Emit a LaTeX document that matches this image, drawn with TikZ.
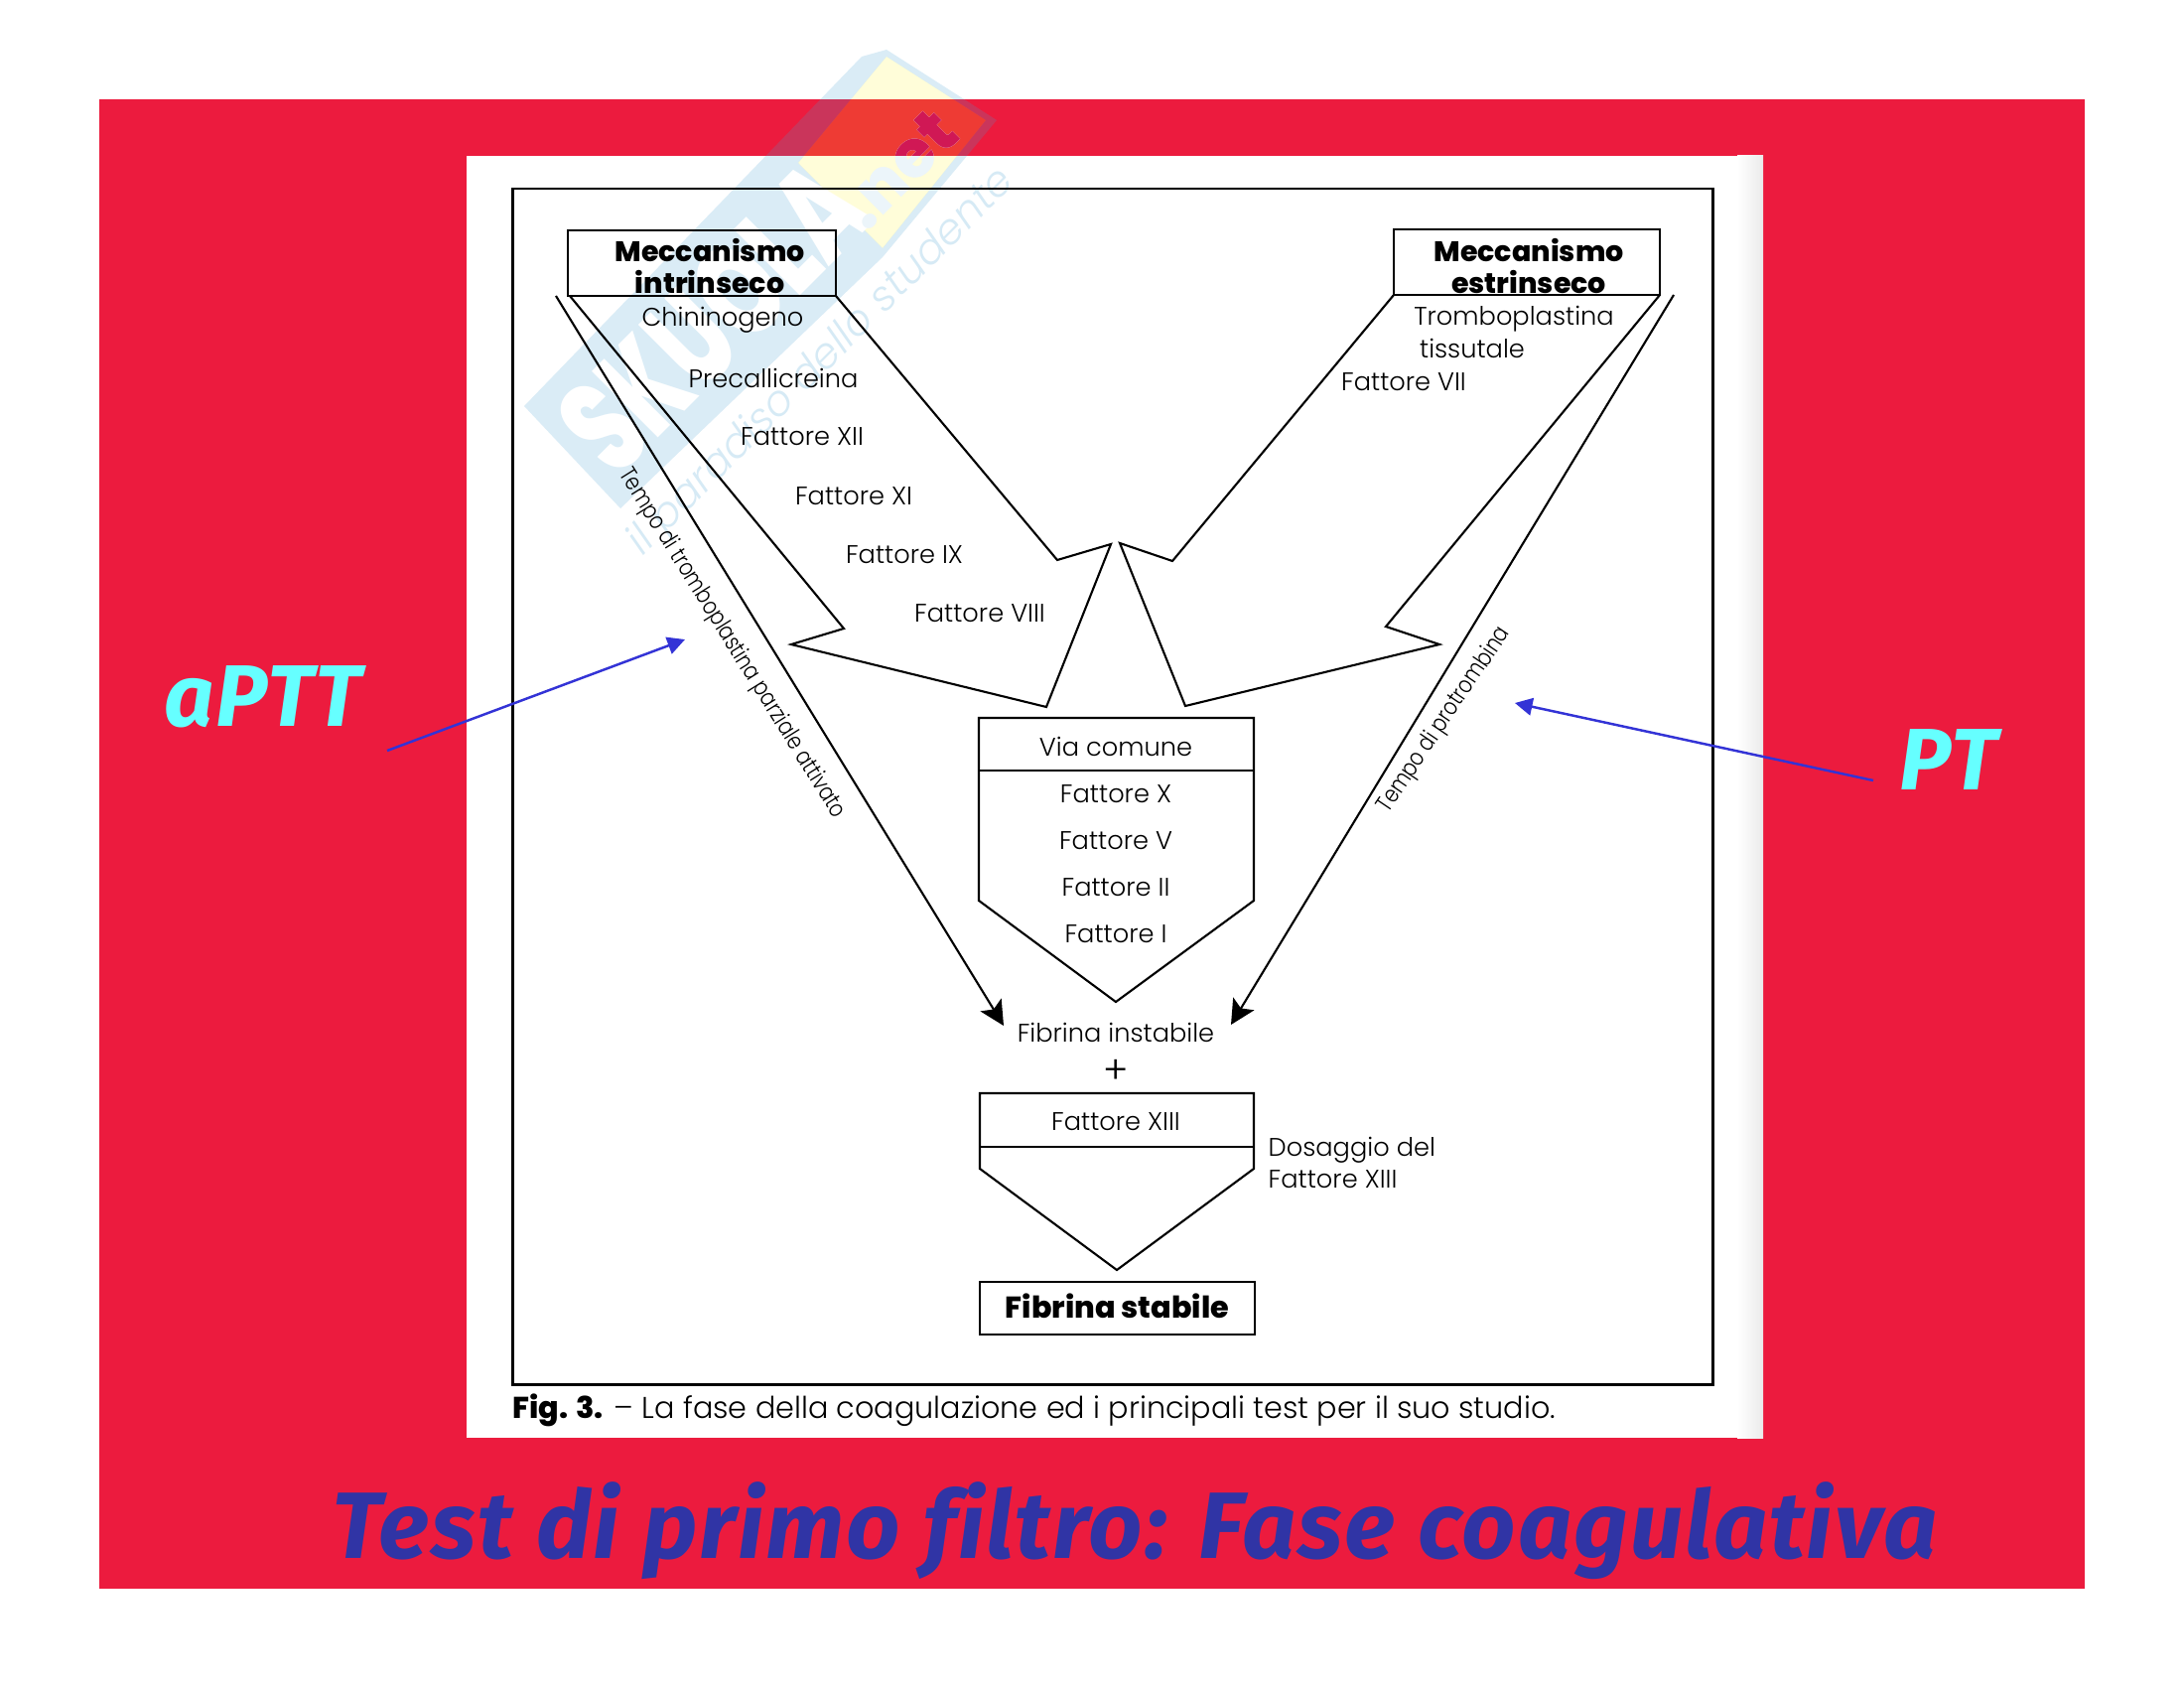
\documentclass[tikz,border=0pt]{standalone}
\usepackage{fontspec}
\setmainfont{Poppins}[UprightFont=* Light,BoldFont=* ExtraBold]
\newfontfamily\slidefont{Fira Sans}[UprightFont=* Bold Italic,Ligatures=NoCommon,LetterSpace=2]
\usetikzlibrary{arrows.meta}

\definecolor{slidered}{RGB}{236,27,62}
\definecolor{slideblue}{RGB}{48,52,165}
\definecolor{slidecyan}{RGB}{102,255,255}
\definecolor{arrowblue}{RGB}{51,51,214}
\definecolor{markblue}{RGB}{70,160,210}

\tikzset{
    fact/.style={inner sep=0pt, font=\fontsize{7.3}{9}\selectfont},
    tilted/.style={inner sep=0pt, font=\fontsize{6.8}{8}\selectfont},
    head/.style={inner sep=0pt, align=center, font=\fontsize{8.1}{9}\selectfont\bfseries},
    bigtag/.style={inner sep=0pt, text=slidecyan, font=\slidefont\fontsize{25}{28}\selectfont},
    flow/.style={black, line width=0.6pt, line join=miter},
    longarrow/.style={black, line width=0.6pt, -{Stealth[length=7pt,width=7pt,inset=1.5pt]}},
    testarrow/.style={arrowblue, line width=0.7pt, -{Triangle[length=5pt,width=5pt]}},
    netmark/.style={rotate=45, inner sep=0pt, font=\bfseries\fontsize{19}{22}\selectfont}
}

\begin{document}
\begin{tikzpicture}[x=0.01cm, y=-0.01cm]

    \useasboundingbox (0,0) rectangle (2200,1700);

    %-------------------------
    % Sfondo e foglio
    %-------------------------
    \fill[slidered] (100,100) rectangle (2100,1600);
    \fill[white] (470,157) rectangle (1776,1448);
    \shade[left color=white, right color=black!8] (1750,157) rectangle (1776,1448);

    %-------------------------
    % Logo in filigrana
    %-------------------------
    \fill[markblue, opacity=0.2, even odd rule]
    (528,409) -- (868,57) -- (893,50) -- (1004,121) -- (889,259) -- (625,512) -- cycle
    (893,57) -- (993,121) -- (889,250) -- (804,164) -- cycle;
    \fill[yellow, opacity=0.15] (893,57) -- (993,121) -- (889,250) -- (804,164) -- cycle;

    \node[rotate=45, inner sep=0pt, text=white, font=\bfseries\fontsize{38}{40}\selectfont] (logo) at (718,319)
    {\scalebox{0.68}[1]{SKUOLA}};
    \node[netmark, text=black!2!markblue!10] (lognet) at (905,170) {.net};
    \begin{scope}
        \clip (470,100) rectangle (1100,157);
        \node[netmark, text=slidered!88!blue] at (905,170) {.net};
    \end{scope}
    \node[rotate=45, text=markblue!22, font=\itshape\fontsize{12}{14}\selectfont] (motto) at (828,365)
    {il paradiso dello studente};

    %-------------------------
    % Cornice della figura
    %-------------------------
    \draw[black, line width=0.85pt] (516,190) rectangle (1725,1394);

    %-------------------------
    % Meccanismo intrinseco
    %-------------------------
    \draw[flow] (572,232) rectangle (842,298);
    \draw[flow] (842,298) -- (1065,564) -- (1119,548) -- (1054,712) -- (797,649) -- (850,633) -- (574,298);

    \node[head] (intr) at (715,268) {Meccanismo\\intrinseco};
    \node[fact] (chin) at (728,322) {Chininogeno};
    \node[fact] (prec) at (779,381) {Precallicreina};
    \node[fact] (f12) at (808,440) {Fattore XII};
    \node[fact] (f11) at (860,500) {Fattore XI};
    \node[fact] (f9) at (911,559) {Fattore IX};
    \node[fact] (f8) at (987,618) {Fattore VIII};

    %-------------------------
    % Meccanismo estrinseco
    %-------------------------
    \draw[flow] (1404,231) rectangle (1672,297);
    \draw[flow] (1404,297) -- (1181,565) -- (1128,547) -- (1194,711) -- (1450,649) -- (1396,631) -- (1672,297);

    \node[head] (estr) at (1540,268) {Meccanismo\\estrinseco};
    \node[fact] (trom) at (1525,321) {Tromboplastina};
    \node[fact] (tiss) at (1483,351) {tissutale};
    \node[fact] (f7) at (1414,385) {Fattore VII};

    %-------------------------
    % Via comune
    %-------------------------
    \draw[flow] (986,723) -- (1263,723) -- (1263,907) -- (1124,1009) -- (986,907) -- cycle;
    \draw[flow] (986,776) -- (1263,776);

    \node[fact] (via) at (1124,752) {Via comune};
    \node[fact] (f10) at (1124,800) {Fattore X};
    \node[fact] (f5) at (1124,847) {Fattore V};
    \node[fact] (f2) at (1124,894) {Fattore II};
    \node[fact] (f1) at (1124,941) {Fattore I};

    \node[fact] (inst) at (1124,1040) {Fibrina instabile};
    \node[fact, font=\fontsize{11}{12}\selectfont] (plus) at (1124,1079) {+};

    %-------------------------
    % Fattore XIII e fibrina
    %-------------------------
    \draw[flow] (987,1101) -- (1263,1101) -- (1263,1177) -- (1125,1279) -- (987,1177) -- cycle;
    \draw[flow] (987,1155) -- (1263,1155);

    \node[fact] (f13) at (1124,1130) {Fattore XIII};
    \node[fact, anchor=west, align=left] (dos) at (1277,1171) {Dosaggio del\\Fattore XIII};

    \draw[flow] (987,1291) rectangle (1264,1344);
    \node[inner sep=0pt, font=\fontsize{8.6}{9}\selectfont\bfseries] (stab) at (1125.5,1315) {Fibrina stabile};

    %-------------------------
    % Tempi dei test
    %-------------------------
    \coordinate (aptta) at (560,298);
    \coordinate (apttb) at (1011,1033);
    \coordinate (pta) at (1686,297);
    \coordinate (ptb) at (1240,1032);

    \draw[longarrow] (aptta) -- (apttb);
    \draw[longarrow] (pta) -- (ptb);

    \node[tilted, rotate=-58] (tempoa) at (737,648) {\scalebox{0.82}[1]{Tempo di tromboplastina parziale attivato}};
    \node[tilted, rotate=56] (tempob) at (1455,725) {\scalebox{0.82}[1]{Tempo di protrombina}};

    %-------------------------
    % Didascalia
    %-------------------------
    \node[inner sep=0pt, anchor=west, font=\fontsize{8.6}{9}\selectfont] (cap) at (516,1420)
    {\textbf{Fig. 3.} -- La fase della coagulazione ed i principali test per il suo studio.};

    %-------------------------
    % Scritte della diapositiva
    %-------------------------
    \node[bigtag] (aptt) at (265,702) {aPTT};
    \node[bigtag] (pt) at (1963,765) {PT};

    \coordinate (ttaila) at (390,756);
    \coordinate (ttipa) at (690,644);
    \coordinate (ttailb) at (1887,786);
    \coordinate (ttipb) at (1526,708);

    \draw[testarrow] (ttaila) -- (ttipa);
    \draw[testarrow] (ttailb) -- (ttipb);

    \node[inner sep=0pt, anchor=base west, text=slideblue, font=\slidefont\fontsize{27}{30}\selectfont] (title) at (334,1569)
    {Test di primo filtro: Fase coagulativa};

\end{tikzpicture}
\end{document}
